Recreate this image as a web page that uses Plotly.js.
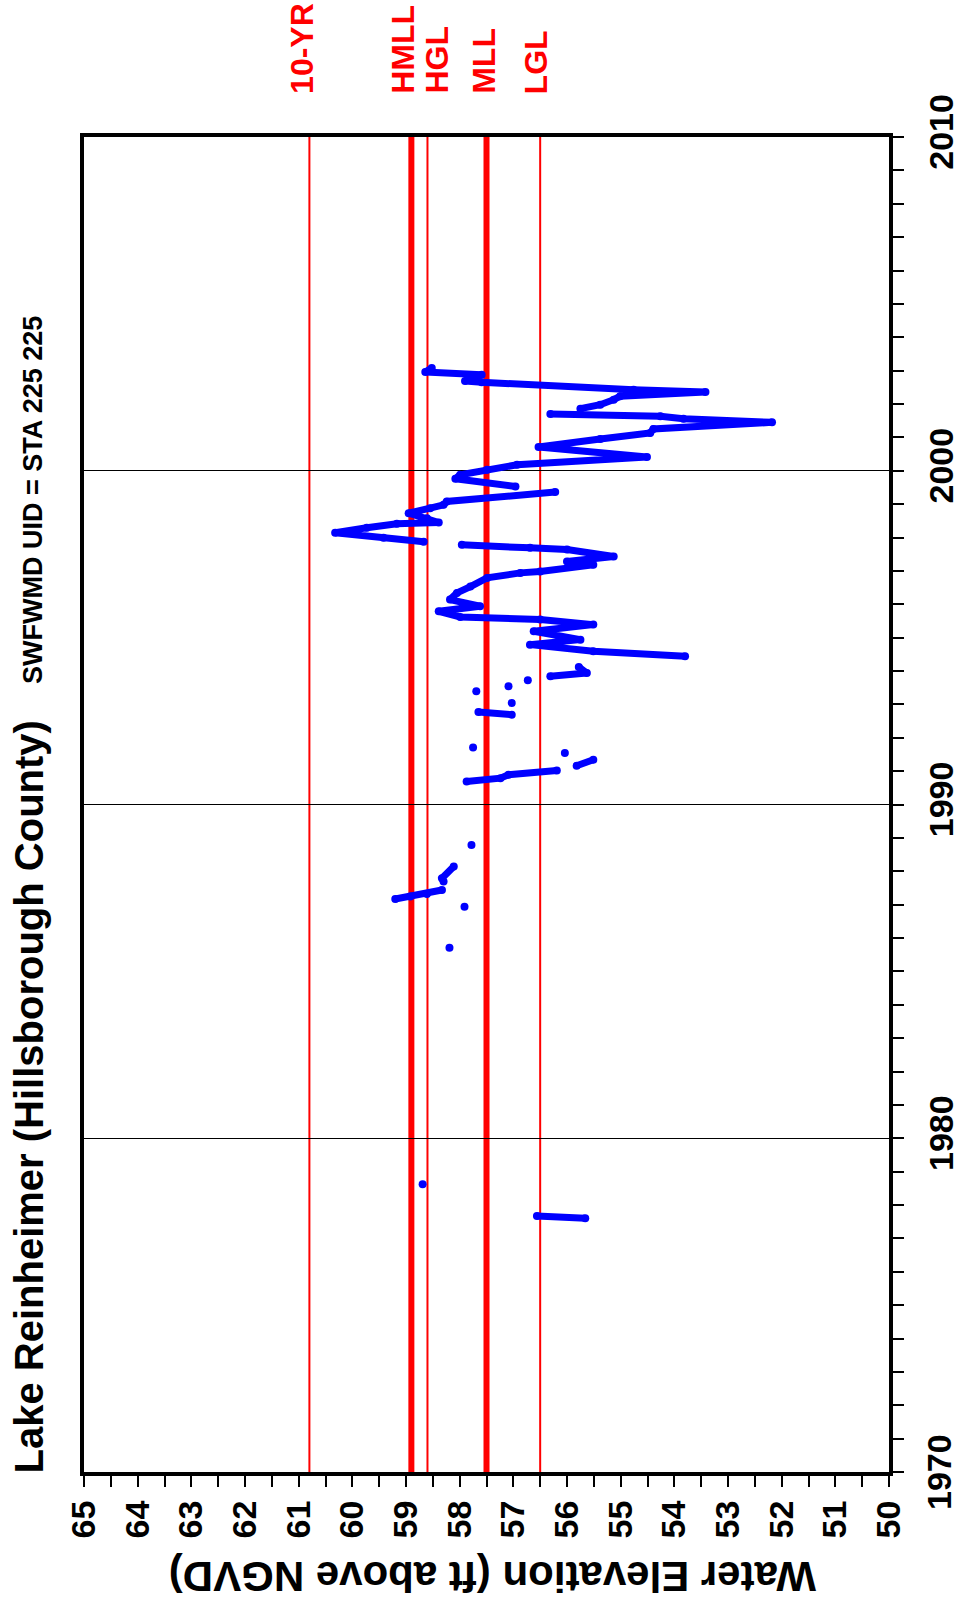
<!DOCTYPE html>
<html>
<head>
<meta charset="utf-8">
<script src="https://cdn.plot.ly/plotly-3.0.1.min.js"></script>
<style>
  html, body { margin: 0; padding: 0; background: #fff; }
  #chart { width: 960px; height: 1615px; }
</style>
</head>
<body>
<div id="chart"></div>
<script>
// Water level record (decimal year, ft above NGVD); null = gap in record
const years = [
  1977.60, 1977.67, null,
  1978.62, null,
  1985.71, null,
  1986.94, null,
  1987.17, 1987.24, 1987.32, 1987.44, null,
  1987.69, 1987.79, 1988.14, null,
  1988.79, null,
  1990.69, 1990.79, 1990.89, 1991.02, null,
  1991.16, 1991.34, null,
  1991.54, null,
  1991.71, null,
  1992.69, 1992.77, null,
  1993.04, null,
  1993.39, null,
  1993.54, null,
  1993.72, null,
  1993.84, 1993.94, 1994.12, null,
  1994.44, 1994.59, 1994.79, 1994.94, 1995.19, 1995.39, 1995.54, 1995.62, 1995.79, 1995.94,
  1996.14, 1996.34, 1996.53, 1996.79, 1996.94, 1996.98, 1997.18, 1997.28, 1997.43, 1997.64,
  1997.69, 1997.78, null,
  1997.87, 1997.99, 1998.14, 1998.29, 1998.41, 1998.45, 1998.58, 1998.73, 1998.88, 1998.98,
  1999.08, 1999.36, null,
  1999.53, 1999.76, 1999.88, 2000.03, 2000.18, 2000.41, 2000.71, 2000.95, 2001.13, 2001.25,
  2001.45, 2001.56, 2001.63, 2001.70, null,
  2001.86, 2001.98, 2002.13, 2002.23, 2002.36, 2002.43, 2002.65, 2002.69, 2002.88, 2002.96,
  2003.08
];
const elevation = [
  55.66, 56.56, null,
  58.69, null,
  58.19, null,
  57.91, null,
  59.20, 58.92, 58.61, 58.33, null,
  58.30, 58.33, 58.11, null,
  57.78, null,
  57.87, 57.24, 57.09, 56.19, null,
  55.82, 55.51, null,
  56.04, null,
  57.75, null,
  57.03, 57.65, null,
  57.03, null,
  57.69, null,
  57.09, null,
  56.73, null,
  56.31, 55.63, 55.78, null,
  53.80, 55.51, 56.69, 55.75, 56.62, 55.51, 56.50, 57.99, 58.39, 57.62,
  58.18, 58.05, 57.80, 57.49, 56.87, 56.50, 55.51, 56.00, 55.13, 56.00,
  56.69, 57.96, null,
  58.67, 59.42, 60.32, 59.73, 59.17, 58.39, 58.61, 58.95, 58.55, 58.30,
  58.24, 56.22, null,
  56.96, 58.08, 57.99, 57.49, 56.93, 54.51, 56.53, 55.38, 54.45, 54.39,
  52.18, 53.83, 54.26, 56.31, null,
  55.75, 55.38, 55.13, 55.01, 53.42, 54.76, 57.59, 57.90, 57.59, 58.64,
  58.52
];

// Reference levels
const levelNames  = ["10-YR", "HMLL", "HGL", "MLL", "LGL"];
const levelValues = [60.8, 58.9, 58.6, 57.5, 56.5];
const levelWidths = [2, 6, 2, 6, 2];
const levelLabelPos = [60.93, 59.05, 58.43, 57.55, 56.57];

const yearTicks = [1970, 1980, 1990, 2000, 2010];
const yearLabels = ["1970", "1980", "1990", "2000", "2010"];
const elevTicks = [65, 64, 63, 62, 61, 60, 59, 58, 57, 56, 55, 54, 53, 52, 51, 50];

const FONT = "Liberation Sans, Arial, sans-serif";

const L = 84, R = 889, T = 137, B = 1472;
const pw = R - L, ph = B - T;
const px2paperX = p => (p - L) / pw;
const px2paperY = p => (B - p) / ph;

const shapes = levelValues.map((v, i) => ({
  type: "line", xref: "x", yref: "paper",
  x0: v, x1: v, y0: 0, y1: 1,
  line: { color: "#ff0000", width: levelWidths[i] },
  layer: "below"
}));

const annotations = levelNames.map((n, i) => ({
  text: n, xref: "x", yref: "paper",
  x: levelLabelPos[i], y: px2paperY(96),
  xanchor: "center", yanchor: "bottom",
  textangle: -90, showarrow: false,
  font: { family: FONT, size: 32, color: "#ff0000", weight: "bold" }
}));

annotations.push({
  text: "Lake Reinheimer (Hillsborough County)",
  xref: "paper", yref: "paper",
  x: px2paperX(28), y: px2paperY(1476), xanchor: "center", yanchor: "bottom",
  textangle: -90, showarrow: false,
  font: { family: FONT, size: 40, color: "#000", weight: "bold" }
});
annotations.push({
  text: "SWFWMD UID = STA 225 225",
  xref: "paper", yref: "paper",
  x: px2paperX(33), y: px2paperY(686), xanchor: "center", yanchor: "bottom",
  textangle: -90, showarrow: false,
  font: { family: FONT, size: 27, color: "#000", weight: "bold" }
});
annotations.push({
  text: "Water Elevation (ft above NGVD)",
  xref: "paper", yref: "paper",
  x: px2paperX(493), y: px2paperY(1577), xanchor: "center", yanchor: "middle",
  textangle: 180, showarrow: false,
  font: { family: FONT, size: 42, color: "#000", weight: "bold" }
});
// first year label (axis end) placed on the year scale explicitly
annotations.push({
  text: yearLabels[0],
  xref: "paper", yref: "y",
  x: px2paperX(939), y: yearTicks[0], xanchor: "center", yanchor: "middle",
  textangle: -90, showarrow: false,
  font: { family: FONT, size: 34, color: "#000", weight: "bold" }
});

const trace = {
  x: elevation, y: years,
  type: "scatter", mode: "lines+markers",
  connectgaps: false,
  line: { color: "#0000ff", width: 7 },
  marker: { color: "#0000ff", size: 8 },
  hoverinfo: "skip"
};

const layout = {
  width: 960, height: 1615,
  margin: { l: L, r: 960 - R, t: T, b: 1615 - B, pad: 0 },
  paper_bgcolor: "#fff", plot_bgcolor: "#fff",
  showlegend: false,
  xaxis: {
    range: [65, 50], tickvals: elevTicks, ticktext: elevTicks.map(String),
    ticks: "outside", ticklen: 11, tickwidth: 2, tickcolor: "#000",
    minor: { dtick: 0.5, tick0: 50, ticks: "outside", ticklen: 11, tickwidth: 2, tickcolor: "#000", showgrid: false },
    tickangle: -90,
    tickfont: { family: FONT, size: 34, color: "#000", weight: "bold" },
    showline: true, linewidth: 4, linecolor: "#000", mirror: true,
    showgrid: false, zeroline: false
  },
  yaxis: {
    side: "right",
    range: [1970, 2010], tickvals: yearTicks,
    ticktext: yearLabels.map((t, i) => (i === 0 ? "" : t)),
    ticks: "outside", ticklen: 11, tickwidth: 2, tickcolor: "#000",
    minor: { dtick: 1, tick0: 1970, ticks: "outside", ticklen: 11, tickwidth: 2, tickcolor: "#000", showgrid: false },
    tickangle: -90, ticklabelstandoff: 8,
    tickfont: { family: FONT, size: 34, color: "#000", weight: "bold" },
    showline: true, linewidth: 4, linecolor: "#000", mirror: true,
    showgrid: true, gridcolor: "#000", gridwidth: 1, zeroline: false
  },
  shapes: shapes,
  annotations: annotations
};

Plotly.newPlot("chart", [trace], layout, { displayModeBar: false, staticPlot: true });
</script>
</body>
</html>
